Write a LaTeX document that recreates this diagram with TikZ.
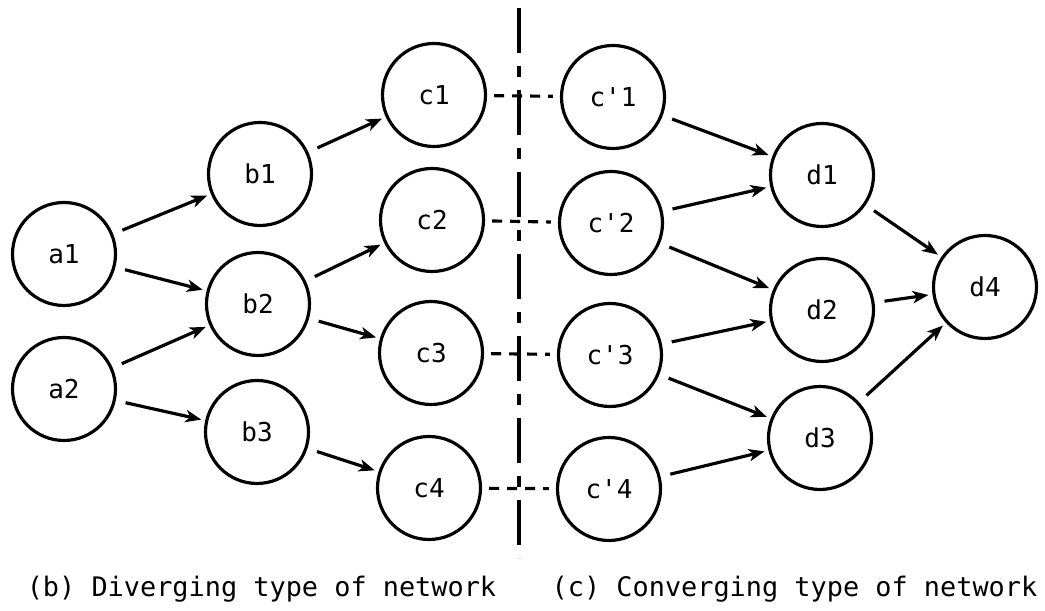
\documentclass[tikz,border=0pt]{standalone}
\usepackage{fontspec}
\newfontfamily\netfont{DejaVu Sans Mono}
\usetikzlibrary{arrows.meta}

\begin{document}
\begin{tikzpicture}[line width=1.8pt,
  unit/.style={draw, circle, minimum size=2.06cm, inner sep=0pt,
    font=\netfont\fontsize{14.8}{17}\selectfont},
  arr/.style={-{Stealth[length=9pt, width=7pt, inset=2.5pt]},
    shorten <=0.2cm, shorten >=0.08cm},
  pairline/.style={dash pattern=on 0.2cm off 0.16cm,
    shorten <=0.14cm, shorten >=0.14cm},
  splitline/.style={dash pattern=on 0.9cm off 0.26cm on 0.22cm off 0.26cm},
  caption/.style={font=\netfont\fontsize{15.3}{18}\selectfont, anchor=base}]
  \useasboundingbox (0,0) rectangle (20.9,12.22);
  % diverging part
  \node[unit] (a1) at (1.28, 7.14) {a1};
  \node[unit] (a2) at (1.28, 4.44) {a2};
  \node[unit] (b1) at (5.20, 8.74) {b1};
  \node[unit] (b2) at (5.16, 6.14) {b2};
  \node[unit] (b3) at (5.14, 3.58) {b3};
  \node[unit] (c1) at (8.68, 10.32) {c1};
  \node[unit] (c2) at (8.64, 7.82) {c2};
  \node[unit] (c3) at (8.62, 5.16) {c3};
  \node[unit] (c4) at (8.58, 2.46) {c4};
  % converging part
  \node[unit] (cp1) at (12.26, 10.28) {c'1};
  \node[unit] (cp2) at (12.22, 7.76) {c'2};
  \node[unit] (cp3) at (12.20, 5.12) {c'3};
  \node[unit] (cp4) at (12.18, 2.44) {c'4};
  \node[unit] (d1) at (16.44, 8.72) {d1};
  \node[unit] (d2) at (16.44, 6.02) {d2};
  \node[unit] (d3) at (16.40, 3.46) {d3};
  \node[unit] (d4) at (19.70, 6.48) {d4};
  \draw[arr] (a1) -- (b1);
  \draw[arr] (a1) -- (b2);
  \draw[arr] (a2) -- (b2);
  \draw[arr] (a2) -- (b3);
  \draw[arr] (b1) -- (c1);
  \draw[arr] (b2) -- (c2);
  \draw[arr] (b2) -- (c3);
  \draw[arr] (b3) -- (c4);
  \draw[arr] (cp1) -- (d1);
  \draw[arr] (cp2) -- (d1);
  \draw[arr] (cp2) -- (d2);
  \draw[arr] (cp3) -- (d2);
  \draw[arr] (cp3) -- (d3);
  \draw[arr] (cp4) -- (d3);
  \draw[arr] (d1) -- (d4);
  \draw[arr] (d2) -- (d4);
  \draw[arr] (d3) -- (d4);
  % split between the two halves
  \foreach \i in {1,...,4}
    \draw[pairline] (c\i) -- (cp\i);
  \coordinate (top) at (10.38, 12.06);
  \coordinate (bottom) at (10.38, 1.06);
  \draw[splitline] (top) -- (bottom);
  \node[caption] (capb) at (5.23, 0.28) {(b) Diverging type of network};
  \node[caption] (capc) at (15.89, 0.28) {(c) Converging type of network};
\end{tikzpicture}
\end{document}
